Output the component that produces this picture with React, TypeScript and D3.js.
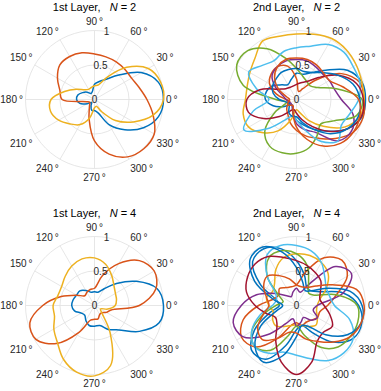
import React, { useEffect, useRef } from 'react';
import * as d3 from 'd3';

// sample angles (deg) for every curve
const angles = [0, 15, 30, 45, 60, 75, 90, 105, 120, 135, 150, 165, 180, 195, 210, 225, 240, 255, 270, 285, 300, 315, 330, 345];
const thetaTicks = [0, 30, 60, 90, 120, 150, 180, 210, 240, 270, 300, 330];
const rTicks = [0, 0.5, 1];
const rTickLabels = ['0', '0.5', '1'];
const rGrid = [0.5, 1];

// matlab default colour order
const colorOrder = ['#0072BD', '#D95319', '#EDB120', '#7E2F8E', '#77AC30', '#4DBEEE', '#A2142F'];

// ---- 1st layer, N = 2
const l1n2Blue = [1.0, 0.96, 0.78, 0.5, 0.34, 0.27, 0.22, 0.12, 0.1, 0.15, 0.2, 0.25, 0.26, 0.22, 0.12, 0.06, 0.1, 0.16, 0.16, 0.2, 0.42, 0.62, 0.82, 0.96];
const l1n2Orange = [0.76, 0.67, 0.62, 0.62, 0.63, 0.64, 0.66, 0.7, 0.72, 0.71, 0.62, 0.52, 0.47, 0.12, 0.08, 0.1, 0.15, 0.3, 0.6, 0.82, 0.96, 1.01, 1.0, 0.88];
const l1n2Yellow = [1.0, 0.99, 0.9, 0.66, 0.38, 0.22, 0.2, 0.18, 0.17, 0.2, 0.3, 0.45, 0.63, 0.66, 0.6, 0.5, 0.42, 0.28, 0.12, 0.1, 0.2, 0.43, 0.65, 0.88];

// ---- 2nd layer, N = 2
const l2n2Blue = [1.0, 0.98, 0.85, 0.6, 0.45, 0.38, 0.38, 0.3, 0.25, 0.3, 0.4, 0.45, 0.45, 0.35, 0.2, 0.1, 0.12, 0.2, 0.3, 0.38, 0.5, 0.65, 0.85, 0.98];
const l2n2Orange = [0.98, 0.95, 0.75, 0.4, 0.18, 0.12, 0.3, 0.5, 0.55, 0.52, 0.45, 0.3, 0.15, 0.1, 0.15, 0.2, 0.25, 0.35, 0.45, 0.55, 0.65, 0.8, 0.95, 1.0];
const l2n2Yellow = [0.98, 0.98, 1.0, 1.02, 1.02, 0.98, 0.95, 0.95, 0.98, 0.85, 0.78, 0.74, 0.74, 0.8, 0.8, 0.68, 0.52, 0.3, 0.15, 0.2, 0.35, 0.55, 0.8, 0.95];
const l2n2Purple = [0.65, 0.57, 0.55, 0.53, 0.55, 0.58, 0.58, 0.58, 0.55, 0.5, 0.35, 0.2, 0.15, 0.12, 0.1, 0.1, 0.12, 0.2, 0.35, 0.45, 0.55, 0.85, 0.92, 0.85];
const l2n2Green = [0.95, 0.6, 0.35, 0.28, 0.3, 0.35, 0.45, 0.62, 0.85, 1.0, 1.0, 0.8, 0.3, 0.15, 0.35, 0.65, 0.78, 0.8, 0.78, 0.72, 0.6, 0.5, 0.62, 0.9];
const l2n2LightBlue = [0.9, 0.95, 0.95, 0.97, 0.92, 0.8, 0.75, 0.72, 0.65, 0.7, 0.8, 0.6, 0.4, 0.65, 0.88, 0.6, 0.35, 0.25, 0.3, 0.45, 0.7, 0.85, 0.75, 0.8];
const l2n2DarkRed = [0.97, 0.9, 0.7, 0.45, 0.3, 0.25, 0.22, 0.2, 0.2, 0.22, 0.3, 0.55, 0.72, 0.72, 0.55, 0.35, 0.2, 0.15, 0.2, 0.3, 0.45, 0.65, 0.85, 0.97];
const l2n2Blue2 = [0.92, 0.85, 0.7, 0.55, 0.45, 0.42, 0.45, 0.45, 0.45, 0.42, 0.4, 0.35, 0.25, 0.15, 0.12, 0.15, 0.22, 0.25, 0.25, 0.35, 0.5, 0.7, 0.85, 0.93];
const l2n2Orange2 = [0.9, 0.7, 0.55, 0.55, 0.58, 0.6, 0.6, 0.6, 0.55, 0.45, 0.3, 0.15, 0.1, 0.12, 0.15, 0.12, 0.1, 0.2, 0.4, 0.6, 0.78, 0.9, 0.95, 0.95];

// ---- 1st layer, N = 4
const l1n4Blue = [1.0, 0.94, 0.7, 0.45, 0.28, 0.2, 0.2, 0.2, 0.25, 0.3, 0.3, 0.32, 0.33, 0.3, 0.22, 0.2, 0.25, 0.3, 0.3, 0.3, 0.4, 0.5, 0.75, 0.97];
const l1n4Orange = [0.65, 0.92, 1.0, 0.92, 0.7, 0.45, 0.25, 0.24, 0.22, 0.2, 0.3, 0.5, 0.75, 0.97, 0.98, 0.78, 0.45, 0.22, 0.2, 0.2, 0.15, 0.15, 0.2, 0.25];
const l1n4Yellow = [0.3, 0.33, 0.35, 0.4, 0.5, 0.62, 0.69, 0.7, 0.66, 0.6, 0.55, 0.55, 0.6, 0.6, 0.68, 0.76, 0.9, 1.0, 1.02, 0.9, 0.45, 0.15, 0.1, 0.2];

// ---- 2nd layer, N = 4
const l2n4Blue = [0.9, 0.7, 0.4, 0.3, 0.3, 0.45, 0.65, 0.85, 0.95, 0.9, 0.6, 0.3, 0.25, 0.4, 0.7, 0.92, 0.9, 0.6, 0.35, 0.3, 0.45, 0.75, 0.95, 0.98];
const l2n4Orange = [0.45, 0.6, 0.85, 0.93, 0.8, 0.5, 0.3, 0.28, 0.3, 0.35, 0.3, 0.35, 0.55, 0.8, 0.92, 0.85, 0.55, 0.3, 0.25, 0.3, 0.28, 0.3, 0.35, 0.35];
const l2n4Yellow = [0.3, 0.35, 0.5, 0.65, 0.72, 0.75, 0.75, 0.72, 0.6, 0.45, 0.4, 0.45, 0.4, 0.35, 0.4, 0.42, 0.35, 0.3, 0.28, 0.3, 0.35, 0.4, 0.35, 0.3];
const l2n4Purple = [0.3, 0.7, 0.92, 0.8, 0.35, 0.2, 0.25, 0.2, 0.15, 0.2, 0.35, 0.6, 0.8, 0.95, 0.9, 0.6, 0.3, 0.2, 0.3, 0.25, 0.2, 0.3, 0.35, 0.25];
const l2n4Green = [0.88, 0.6, 0.3, 0.25, 0.35, 0.6, 0.75, 0.82, 0.8, 0.6, 0.3, 0.2, 0.3, 0.5, 0.75, 0.85, 0.75, 0.45, 0.3, 0.45, 0.7, 0.85, 0.9, 0.92];
const l2n4LightBlue = [0.55, 0.5, 0.5, 0.58, 0.72, 0.82, 0.87, 0.9, 0.85, 0.6, 0.35, 0.3, 0.35, 0.55, 0.75, 0.85, 0.8, 0.7, 0.72, 0.8, 0.92, 0.97, 0.95, 0.8];
const l2n4DarkRed = [0.4, 0.35, 0.4, 0.5, 0.55, 0.6, 0.65, 0.72, 0.82, 0.85, 0.82, 0.75, 0.6, 0.45, 0.35, 0.4, 0.6, 0.85, 1.0, 0.85, 0.6, 0.55, 0.6, 0.5];
const l2n4Blue2 = [0.95, 0.8, 0.5, 0.3, 0.25, 0.35, 0.55, 0.8, 0.98, 0.95, 0.7, 0.35, 0.2, 0.3, 0.6, 0.85, 0.95, 0.75, 0.45, 0.3, 0.35, 0.6, 0.85, 0.97];
const l2n4Orange2 = [0.98, 0.9, 0.6, 0.4, 0.3, 0.28, 0.3, 0.4, 0.5, 0.6, 0.55, 0.45, 0.4, 0.5, 0.65, 0.7, 0.55, 0.4, 0.4, 0.5, 0.6, 0.75, 0.9, 0.97];

const R = 69;
const font = 'Liberation Sans, Arial, Helvetica, sans-serif';

const PolarPanel = ({ id, cx, cy, layer, n, series }: { id: string, cx: number, cy: number, layer: string, n: number, series: number[][] }) => {
    const ref = useRef<SVGGElement>(null);

    useEffect(() => {
        const g = d3.select(ref.current);
        g.selectAll('*').remove();
        g.attr('transform', `translate(${cx},${cy})`);

        const rScale = d3.scaleLinear().domain([0, 1]).range([0, R]);
        const rad = (deg: number) => deg * Math.PI / 180;

        // grid
        g.selectAll('line.spoke')
            .data(thetaTicks)
            .enter()
            .append('line')
            .attr('x1', 0).attr('y1', 0)
            .attr('x2', d => rScale(1) * Math.cos(rad(d)))
            .attr('y2', d => -rScale(1) * Math.sin(rad(d)))
            .attr('stroke', '#e0e0e0')
            .attr('stroke-width', 0.8);
        g.selectAll('circle.ring')
            .data(rGrid)
            .enter()
            .append('circle')
            .attr('r', d => rScale(d))
            .attr('fill', 'none')
            .attr('stroke', '#e0e0e0')
            .attr('stroke-width', 0.8);

        // theta labels
        g.selectAll('text.theta')
            .data(thetaTicks)
            .enter()
            .append('text')
            .attr('font-family', font)
            .attr('font-size', 10)
            .attr('fill', '#262626')
            .attr('text-anchor', d => {
                const c = Math.cos(rad(d));
                return c > 0.01 ? 'start' : c < -0.01 ? 'end' : 'middle';
            })
            .attr('x', d => rScale(1) * Math.cos(rad(d)) + 2.5 * Math.cos(rad(d)))
            .attr('y', d => {
                const s = Math.sin(rad(d));
                const py = -rScale(1) * s;
                if (s > 0.01) return py - 3 - 2.5 * s;
                if (s < -0.01) return py + 12.5;
                return py + 3.5;
            })
            .text(d => `${d}\u2009°`);

        // curves
        const line = d3.lineRadial<number>()
            .angle((d, i) => rad(90 - angles[i]))
            .radius(d => rScale(d))
            .curve(d3.curveCatmullRomClosed.alpha(0.5));

        g.selectAll('path.curve')
            .data(series)
            .enter()
            .append('path')
            .attr('d', d => line(d))
            .attr('fill', 'none')
            .attr('stroke', (d, i) => colorOrder[i % colorOrder.length])
            .attr('stroke-width', 1.5);

        // r labels along 80 deg
        g.selectAll('text.rlab')
            .data(rTicks)
            .enter()
            .append('text')
            .attr('font-family', font)
            .attr('font-size', 10)
            .attr('fill', '#262626')
            .attr('text-anchor', 'middle')
            .attr('x', d => rScale(d) * Math.cos(rad(80)))
            .attr('y', d => -rScale(d) * Math.sin(rad(80)) + 3.5)
            .text((d, i) => rTickLabels[i]);

        // title
        const t = g.append('text')
            .attr('font-family', font)
            .attr('font-size', 11)
            .attr('fill', '#000')
            .attr('text-anchor', 'middle')
            .attr('x', 0)
            .attr('y', -88.5)
            .style('white-space', 'pre');
        t.append('tspan').text(`${layer} Layer,   `);
        t.append('tspan').attr('font-style', 'italic').text('N');
        t.append('tspan').text(` = ${n}`);
    }, [series]);

    return <g id={id} ref={ref}></g>;
};

const App = () => {
    return <svg width={381} height={391} style={{ position: 'absolute', left: 0, top: 0, background: '#fff' }}>
        <PolarPanel id="p1" cx={94.5} cy={99.5} layer="1st" n={2} series={[l1n2Blue, l1n2Orange, l1n2Yellow]} />
        <PolarPanel id="p2" cx={296.5} cy={99.5} layer="2nd" n={2}
            series={[l2n2Blue, l2n2Orange, l2n2Yellow, l2n2Purple, l2n2Green, l2n2LightBlue, l2n2DarkRed, l2n2Blue2, l2n2Orange2]} />
        <PolarPanel id="p3" cx={94.5} cy={305.5} layer="1st" n={4} series={[l1n4Blue, l1n4Orange, l1n4Yellow]} />
        <PolarPanel id="p4" cx={296.5} cy={305.5} layer="2nd" n={4}
            series={[l2n4Blue, l2n4Orange, l2n4Yellow, l2n4Purple, l2n4Green, l2n4LightBlue, l2n4DarkRed, l2n4Blue2, l2n4Orange2]} />
    </svg>;
};

export default App;
